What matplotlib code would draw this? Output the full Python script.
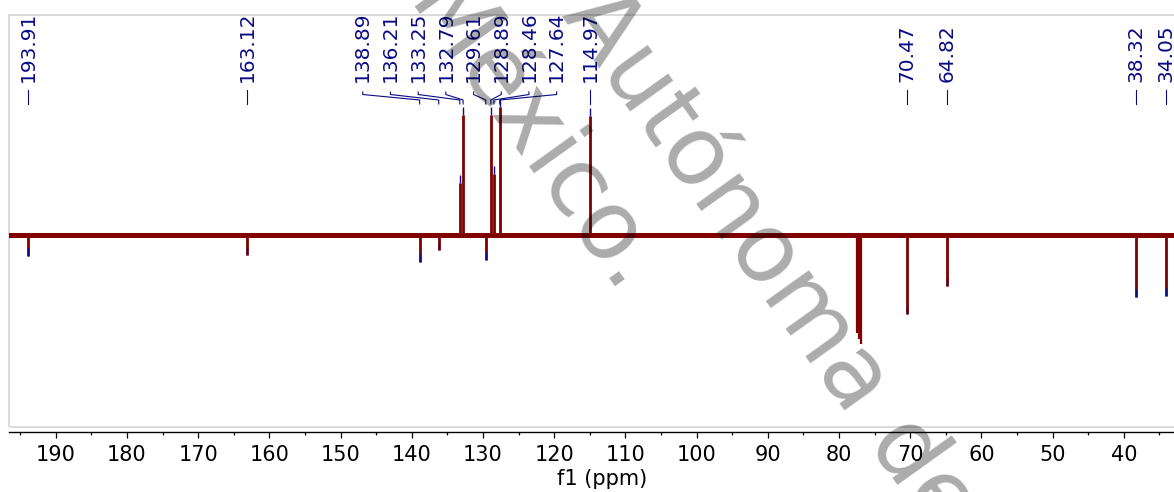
"""
13C DEPT-135 spectrum (CDCl3) with picked peaks.
"""
import matplotlib
matplotlib.use("Agg")
import matplotlib.pyplot as plt
import matplotlib.transforms as mtransforms
from matplotlib.patches import Rectangle
from matplotlib.ticker import MultipleLocator

RED = "#800000"
NAVY = "#0a0a86"

# picked peaks: shift (ppm) and intensity (arb. units, baseline = 0)
peak_ppm = [193.91, 163.12, 138.89, 136.21, 133.25, 132.79, 129.61, 128.89,
            128.46, 127.64, 114.97, 70.47, 64.82, 38.32, 34.05]
peak_int = [-16.4, -15.6, -21.1, -11.7, 40.6, 93.8, -19.5, 93.8,
            47.7, 100.0, 93.0, -61.7, -39.8, -48.4, -47.7]

# CDCl3 triplet (not labelled)
solvent_ppm = [77.48, 77.16, 76.84]
solvent_int = [-76.6, -81.3, -85.2]

# aromatic labels that get fanned out
fan_labels = ["138.89", "136.21", "133.25", "132.79", "129.61", "128.89", "128.46", "127.64"]

# axis ticks shown
tick_ppm = list(range(190, 39, -10))

WATERMARK = "Universidad Nacional Autónoma de México."

fig = plt.figure(figsize=(11.74, 4.92), dpi=100)
ax = fig.add_axes([9 / 1174, 1 - 427 / 492, 1186 / 1174, 412 / 492])
ax.patch.set_visible(False)
ax.set_xlim(196.56, 30.0)
ax.set_ylim(-150, 171.875)

# ── spectrum ──────────────────────────────────────────────────────────────
ax.axhline(0, color=RED, lw=3.6, zorder=2)
ax.vlines(peak_ppm, 0, peak_int, color=RED, lw=2.0, zorder=3)
ax.vlines(solvent_ppm, 0, solvent_int, color=RED, lw=1.6, zorder=3)
# peak-pick markers at the tips
ax.vlines(peak_ppm, peak_int, [v + 6.5 for v in peak_int], color=NAVY, lw=1.0, zorder=4)

# ── peak labels ───────────────────────────────────────────────────────────
trans = mtransforms.blended_transform_factory(ax.transData, ax.transAxes)
fan_start, fan_step = 146.88, 3.89
for ppm in peak_ppm:
    txt = f"{ppm:.2f}"
    if txt in fan_labels:
        lx = fan_start - fan_labels.index(txt) * fan_step
        ax.plot([lx, lx, ppm, ppm], [0.8131, 0.807, 0.7937, 0.784],
                color=NAVY, lw=0.8, transform=trans, clip_on=False)
    else:
        lx = ppm
        ax.plot([lx, lx], [0.818, 0.784], color=NAVY, lw=0.8,
                transform=trans, clip_on=False)
    ax.text(lx, 0.8374, txt, rotation=90, ha="center", va="bottom",
            color=NAVY, fontsize=14.5, transform=trans)

# ── frame and axis ────────────────────────────────────────────────────────
ax.add_patch(Rectangle((0, 0), 1, 1, transform=ax.transAxes, fill=False,
                       ec="#d4d4d4", lw=1.2, clip_on=False))
for side in ("left", "right", "top"):
    ax.spines[side].set_visible(False)
ax.spines["bottom"].set_position(("outward", 3.6))
ax.spines["bottom"].set_color("black")
ax.spines["bottom"].set_linewidth(1.0)

ax.set_xticks(tick_ppm)
ax.xaxis.set_minor_locator(MultipleLocator(5))
ax.tick_params(axis="x", which="major", length=4, width=0.9, labelsize=15, pad=5.5)
ax.tick_params(axis="x", which="minor", length=2, width=0.9)
ax.tick_params(axis="y", left=False, labelleft=False)
ax.set_xlabel("f1 (ppm)", fontsize=15, labelpad=3)

# ── watermark ─────────────────────────────────────────────────────────────
fig.text(620.6 / 1174, 1 - 294 / 492, WATERMARK, rotation=-54.4,
         rotation_mode="anchor", ha="right", va="baseline",
         fontsize=69, color="black", alpha=0.33)
fig.text(561 / 1174, 1 - 15 / 492, WATERMARK.split("Nacional ")[1], rotation=-54.4,
         rotation_mode="anchor", ha="left", va="baseline",
         fontsize=69, color="black", alpha=0.33)

fig.savefig("out.png", dpi=100)
